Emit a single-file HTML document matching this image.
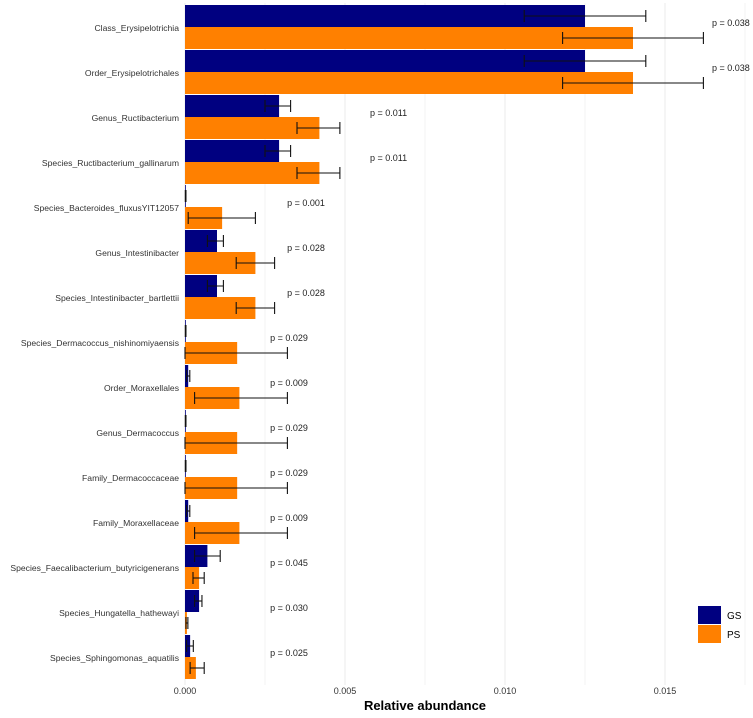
<!DOCTYPE html>
<html><head><meta charset="utf-8"><style>
body{margin:0;background:#fff;font-family:"Liberation Sans",sans-serif}
svg text{font-family:"Liberation Sans",sans-serif}
</style></head><body>
<svg width="753" height="713" id="c">
<g id="grid"></g><g id="bars"></g><g id="labels"></g>
<text x="425" y="710" text-anchor="middle" font-weight="bold" font-size="13">Relative abundance</text>
<g>
<rect x="698" y="606" width="23" height="18" fill="#000080"/>
<text x="727" y="619" font-size="10">GS</text>
<rect x="698" y="625" width="23" height="18" fill="#ff8000"/>
<text x="727" y="638" font-size="10">PS</text>
</g>
</svg>
<script>
const categories=["Class_Erysipelotrichia","Order_Erysipelotrichales","Genus_Ructibacterium","Species_Ructibacterium_gallinarum","Species_Bacteroides_fluxusYIT12057","Genus_Intestinibacter","Species_Intestinibacter_bartlettii","Species_Dermacoccus_nishinomiyaensis","Order_Moraxellales","Genus_Dermacoccus","Family_Dermacoccaceae","Family_Moraxellaceae","Species_Faecalibacterium_butyricigenerans","Species_Hungatella_hathewayi","Species_Sphingomonas_aquatilis"];
const gsMean=[0.0125,0.0125,0.00294,0.00294,0.00002,0.001,0.001,0.00002,0.0001,0.00002,0.00002,0.0001,0.0007,0.00044,0.00016];
const gsLow=[0.0106,0.0106,0.0025,0.0025,0.00001,0.0007,0.0007,0.00001,0.00005,0.00001,0.00001,0.00005,0.0003,0.0003,0.00005];
const gsHigh=[0.0144,0.0144,0.0033,0.0033,0.00003,0.0012,0.0012,0.00003,0.00015,0.00003,0.00003,0.00015,0.0011,0.00053,0.00026];
const psMean=[0.014,0.014,0.0042,0.0042,0.00116,0.0022,0.0022,0.00163,0.0017,0.00163,0.00163,0.0017,0.00044,0.00006,0.00034];
const psLow=[0.0118,0.0118,0.0035,0.0035,0.0001,0.0016,0.0016,0.0,0.0003,0.0,0.0,0.0003,0.00025,0.00003,0.00016];
const psHigh=[0.0162,0.0162,0.00484,0.00484,0.0022,0.0028,0.0028,0.0032,0.0032,0.0032,0.0032,0.0032,0.0006,0.00009,0.0006];
const pvals=["0.038","0.038","0.011","0.011","0.001","0.028","0.028","0.029","0.009","0.029","0.029","0.009","0.045","0.030","0.025"];
const pLabelAt=[0.01647,0.01647,0.00578,0.00578,0.00319,0.00319,0.00319,0.00266,0.00266,0.00266,0.00266,0.00266,0.00266,0.00266,0.00266];
const ticks=[0,0.005,0.010,0.015];
const tickLabels=["0.000","0.005","0.010","0.015"];
const NS="http://www.w3.org/2000/svg";
const x=v=>185+v*32000;
const rowY=i=>28+i*45;
function mk(t,a,p){const e=document.createElementNS(NS,t);for(const k in a)e.setAttribute(k,a[k]);p.appendChild(e);return e;}
const grid=document.getElementById('grid'),bars=document.getElementById('bars'),labels=document.getElementById('labels');
for(let k=0;k<=7;k++){const v=k*0.0025;const g=mk('line',{x1:x(v),x2:x(v),y1:3,y2:685,stroke:'#ebebeb','stroke-width':k%2===0?1:0.6},grid);

}
ticks.forEach((t,i)=>{const tl=mk('text',{x:x(t),y:694,'text-anchor':'middle','font-size':'9','fill':'#333'},labels);tl.textContent=tickLabels[i];

});
function eb(lo,hi,cy){const g=mk('g',{stroke:'#111','stroke-width':1.1},bars);


mk('line',{x1:x(lo),x2:x(hi),y1:cy,y2:cy},g);mk('line',{x1:x(lo),x2:x(lo),y1:cy-6,y2:cy+6},g);mk('line',{x1:x(hi),x2:x(hi),y1:cy-6,y2:cy+6},g);}
categories.forEach((c,i)=>{const y=rowY(i);
const b1=mk('rect',{x:185,y:y-23,width:Math.max(x(gsMean[i])-185,0.8),height:22,fill:'#000080'},bars);


const b2=mk('rect',{x:185,y:y-1,width:Math.max(x(psMean[i])-185,0.8),height:22,fill:'#ff8000'},bars);


eb(gsLow[i],gsHigh[i],y-12);eb(psLow[i],psHigh[i],y+10);
const l=mk('text',{x:179,y:y+3,'text-anchor':'end','font-size':'8.6',fill:'#333'},labels);l.textContent=c;


const p=mk('text',{x:x(pLabelAt[i]),y:y-2,'font-size':'9',fill:'#222'},labels);p.textContent='p = '+pvals[i];

});
</script>
</body></html>
